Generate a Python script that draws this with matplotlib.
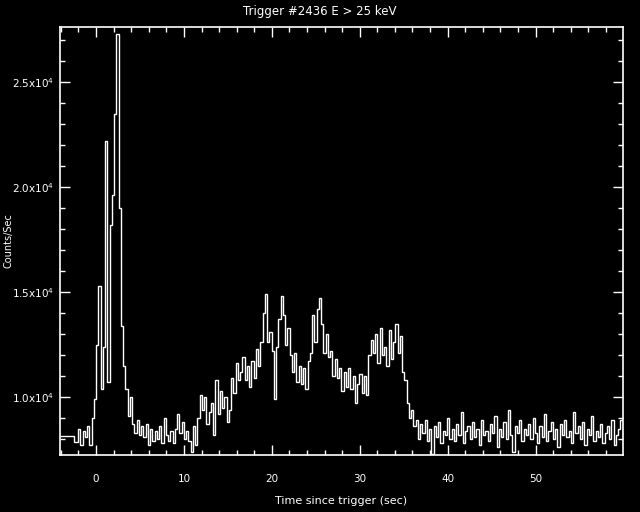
import matplotlib
matplotlib.use("Agg")
import matplotlib.pyplot as plt
import numpy as np
from matplotlib.ticker import MultipleLocator, FuncFormatter

# light curve, 0.256 s bins starting at -4.096 s
bin_width = 0.256
t_start = -4.096

pre_trigger = [8150, 8150, 8150, 8150, 8150, 8150, 7870, 7870,
               8500, 7700, 8400, 8100, 8600, 7700, 9000, 9900]

burst_main = [12500, 15300, 10400, 12400, 22200, 10700, 18200, 19600, 23500, 27300,
              19000, 13400, 11500, 10400, 9100, 10000, 8700, 8300, 8900, 8200]

gap = [8600, 8100, 8700, 7700, 8500, 7900, 8400, 8000, 8600, 7800,
       9000, 8200, 7900, 8400, 7800, 8500, 9200, 8300, 8800, 8000,
       8400, 7900, 7400, 8600, 7700, 9000]

second_episode = [10100, 9400, 10000, 8700, 9300, 9700, 8200, 10800, 9200, 10300,
                  9500, 10000, 8800, 9400, 10900, 10200, 11600, 10800, 11200, 11900,
                  10800, 11500, 10500, 11700, 10900, 12300, 11500, 12600, 14000, 14900,
                  12600, 13100, 12200, 9900, 12400, 13700, 14800, 13900, 12500, 13300,
                  12000, 11200, 12100, 10700, 11500, 10600, 11400, 10400, 11700, 12100,
                  13900, 12600, 14200, 14700, 13500, 12100, 13000, 11900, 12200, 11000,
                  11800, 10900, 11400, 10300, 11200, 10500, 11400, 10400, 11000, 9700,
                  10600, 11100, 10200, 11000, 10100, 12000, 12700, 12100, 13000, 11600,
                  13300, 12000, 12400, 11500, 13200, 11800, 12600, 13500, 12100, 12900,
                  11200, 10800, 9700, 9000, 9400, 8600, 8900, 8000, 8700]

tail = [8300, 8900, 7900, 8500, 7300, 8600, 8100, 8800, 7800, 8400,
        8200, 9000, 8000, 8500, 7900, 8700, 8200, 9300, 7800, 8400,
        8600, 8000, 8800, 8100, 8500, 7700, 8900, 8200, 8400, 7900,
        8700, 8300, 9100, 7600, 8500, 8100, 8800, 8000, 9400, 8200,
        7400, 8600, 8300, 8900, 7900, 8500, 8200, 8700, 8000, 9000,
        8300, 7800, 8600, 8100, 9200, 7900, 8400, 8800, 8000, 8500,
        7600, 8700, 8200, 8900, 8100, 8400, 7800, 9300, 8300, 8600,
        8000, 8800, 7700, 8500, 8200, 9100, 7900, 8400, 8100, 8700,
        7800, 8300, 8600, 8000, 8900, 7700, 8200, 8500, 8900, 8100]

counts = np.array(pre_trigger + burst_main + gap + second_episode + tail, dtype=float)
edges = t_start + bin_width * np.arange(len(counts) + 1)

fig = plt.figure(figsize=(6.4, 5.12), dpi=100, facecolor='black')
ax = fig.add_axes([60 / 640, 57 / 512, 563 / 640, 428 / 512], facecolor='black')

ax.stairs(counts, edges, color='white', lw=1.0, baseline=None)

ax.set_xlim(-4.1, 59.95)
ax.set_ylim(7240, 27620)

ax.xaxis.set_major_locator(MultipleLocator(10))
ax.xaxis.set_minor_locator(MultipleLocator(2))
ax.yaxis.set_major_locator(MultipleLocator(5000))
ax.yaxis.set_minor_locator(MultipleLocator(1000))
ax.yaxis.set_major_formatter(FuncFormatter(
    lambda v, p: r'%.1fx10$^{4}$' % (v / 1e4)))

ax.tick_params(which='both', direction='in', top=True, right=True,
               colors='white', labelsize=7.5, width=1)
ax.tick_params(which='major', length=7, pad=14)
ax.tick_params(which='minor', length=3.5)
ax.tick_params(axis='y', which='major', pad=4)
for s in ax.spines.values():
    s.set_color('white')
    s.set_linewidth(1.2)

fig.text(0.5, 1 - 12 / 512, 'Trigger #2436 E > 25 keV', color='white',
         fontsize=8.5, ha='center', va='center')
ax.set_xlabel('Time since trigger (sec)', color='white', fontsize=8, labelpad=8)
ax.set_ylabel('Counts/Sec', color='white', fontsize=7)
ax.yaxis.set_label_coords(-46 / 563, 0.5)

fig.savefig('out.png', dpi=100, facecolor='black')
